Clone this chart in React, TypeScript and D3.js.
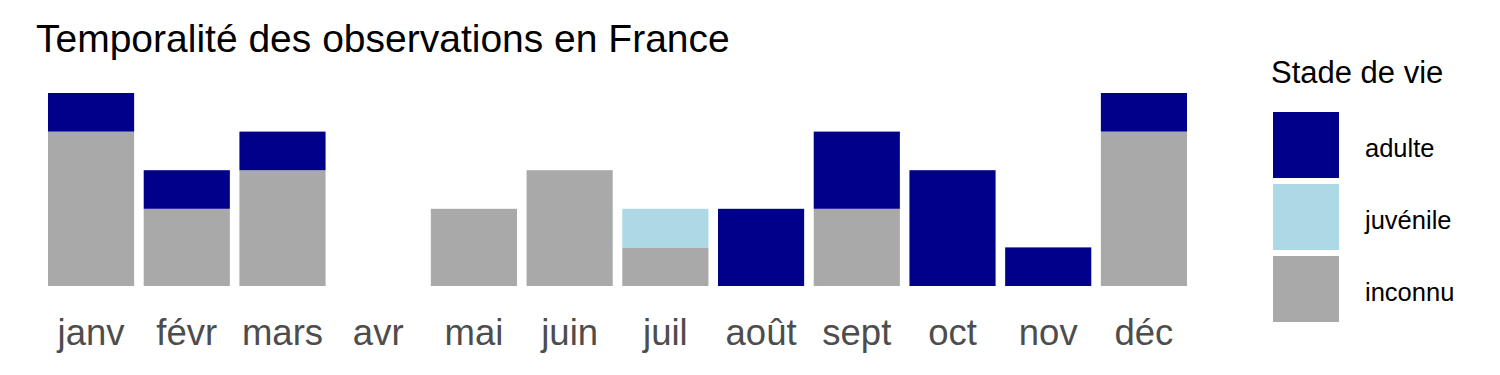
import React from "react";
import * as d3 from "d3";

const months = ["janv", "févr", "mars", "avr", "mai", "juin", "juil", "août", "sept", "oct", "nov", "déc"];
const inconnu = [4, 2, 3, 0, 2, 3, 1, 0, 2, 0, 0, 4];
const juvenile = [0, 0, 0, 0, 0, 0, 1, 0, 0, 0, 0, 0];
const adulte = [1, 1, 1, 0, 0, 0, 0, 2, 2, 3, 1, 1];
const stages = ["inconnu", "juvénile", "adulte"];
const legendOrder = ["adulte", "juvénile", "inconnu"];
const colors: Record<string, string> = { adulte: "#00008B", "juvénile": "#ADD8E6", inconnu: "#A9A9A9" };

export default function App() {
  const W = 1500, H = 375;
  const x = d3.scaleBand().domain(months).range([43.2, 1191.8]).paddingInner(0.1).paddingOuter(0.05);
  const y = d3.scaleLinear().domain([0, 5]).range([286, 93]);
  const rows = months.map((m, i) => ({ month: m, inconnu: inconnu[i], "juvénile": juvenile[i], adulte: adulte[i] }));
  const series = d3.stack<any>().keys(stages)(rows);
  const font = "Arial, 'Liberation Sans', sans-serif";
  return (
    <svg width={W} height={H} style={{ position: "absolute", left: 0, top: 0, background: "#fff" }}>
      <text x={36} y={52} fontFamily={font} fontSize={39} fill="#000">Temporalité des observations en France</text>
      {series.map((s) =>
        s.map((d, i) =>
          d[1] > d[0] ? (
            <rect key={s.key + i} x={x(months[i])} width={x.bandwidth()} y={y(d[1])} height={y(d[0]) - y(d[1])} fill={colors[s.key]} />
          ) : null
        )
      )}
      {months.map((m) => (
        <text key={m} x={(x(m) as number) + x.bandwidth() / 2} y={345} textAnchor="middle" fontFamily={font} fontSize={36.5} fill="#4D4D4D">{m}</text>
      ))}
      <text x={1271} y={83} fontFamily={font} fontSize={31} fill="#000">Stade de vie</text>
      {legendOrder.map((k, i) => (
        <g key={k}>
          <rect x={1273} y={112 + i * 72} width={66} height={66} fill={colors[k]} />
          <text x={1365} y={112 + i * 72 + 36} dominantBaseline="central" fontFamily={font} fontSize={25.5} fill="#000">{k}</text>
        </g>
      ))}
    </svg>
  );
}
